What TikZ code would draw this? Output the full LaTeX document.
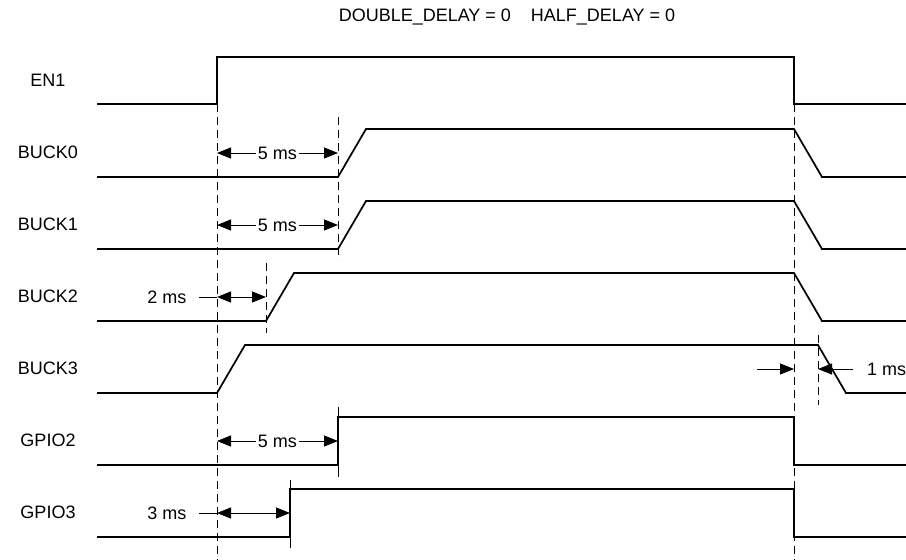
\documentclass[tikz,border=0pt]{standalone}
\usepackage{fontspec}
\setmainfont{Liberation Sans}
\usetikzlibrary{arrows.meta}
\tikzset{
  wave/.style={line width=1.7pt, line join=miter},
  guide/.style={line width=1pt, dash pattern=on 8pt off 5pt},
  tick/.style={line width=1pt},
  dimboth/.style={line width=0.9pt, {Triangle[length=14pt,width=11pt]}-{Triangle[length=14pt,width=11pt]}},
  dimto/.style={line width=0.9pt, -{Triangle[length=14pt,width=11pt]}},
  sig/.style={font=\fontsize{18}{21}\selectfont, anchor=center},
  dimtext/.style={font=\fontsize{18}{21}\selectfont, fill=white, inner sep=2pt}
}

\begin{document}
\begin{tikzpicture}[x=1pt, y=-1pt]
        \useasboundingbox (0,0) rectangle (906,560);
        \node[sig] (title) at (507,17) {DOUBLE\_DELAY = 0\hspace{20pt}HALF\_DELAY = 0};
        % signal names
        \node[sig] (en1) at (48,80) {EN1};
        \node[sig] (buck0) at (48,152) {BUCK0};
        \node[sig] (buck1) at (48,224) {BUCK1};
        \node[sig] (buck2) at (48,296) {BUCK2};
        \node[sig] (buck3) at (48,368) {BUCK3};
        \node[sig] (gpio2) at (48,440) {GPIO2};
        \node[sig] (gpio3) at (48,512) {GPIO3};
        % waveforms
        \draw[wave] (97,104) -- (217,104) -- (217,57) -- (794,57) -- (794,104) -- (906,104);
        \draw[wave] (97,177) -- (338,177) -- (366,129) -- (794,129) -- (822,177) -- (906,177);
        \draw[wave] (97,249) -- (338,249) -- (366,201) -- (794,201) -- (822,249) -- (906,249);
        \draw[wave] (97,321) -- (266,321) -- (294,273) -- (794,273) -- (822,321) -- (906,321);
        \draw[wave] (97,393) -- (217,393) -- (245,345) -- (818,345) -- (846,393) -- (906,393);
        \draw[wave] (97,465) -- (338,465) -- (338,417) -- (794,417) -- (794,465) -- (906,465);
        \draw[wave] (97,537) -- (290,537) -- (290,489) -- (794,489) -- (794,537) -- (906,537);
        % guide lines
        \draw[guide] (217,104) -- (217,560);
        \draw[guide] (794,104) -- (794,560);
        \draw[guide] (338,117) -- (338,260);
        \draw[guide] (266,263) -- (266,333);
        \draw[guide] (818,335) -- (818,405);
        \draw[tick] (338,407) -- (338,477);
        \draw[tick] (290,480) -- (290,548);
        % delays
        \draw[dimboth] (217,153) -- node[dimtext] (d0) {5 ms} (338,153);
        \draw[dimboth] (217,225) -- node[dimtext] (d1) {5 ms} (338,225);
        \node[sig] (d2) at (167,297) {2 ms};
        \draw[tick] (199,297) -- (217,297);
        \draw[dimboth] (217,297) -- (266,297);
        \draw[dimboth] (217,441) -- node[dimtext] (d4) {5 ms} (338,441);
        \node[sig] (d5) at (167,513) {3 ms};
        \draw[tick] (199,513) -- (217,513);
        \draw[dimboth] (217,513) -- (290,513);
        \draw[dimto] (757,369) -- (794,369);
        \draw[dimto] (853,369) -- (818,369);
        \node[sig, anchor=west, inner sep=0pt] (d3) at (867,369) {1 ms};
      \end{tikzpicture}
\end{document}
